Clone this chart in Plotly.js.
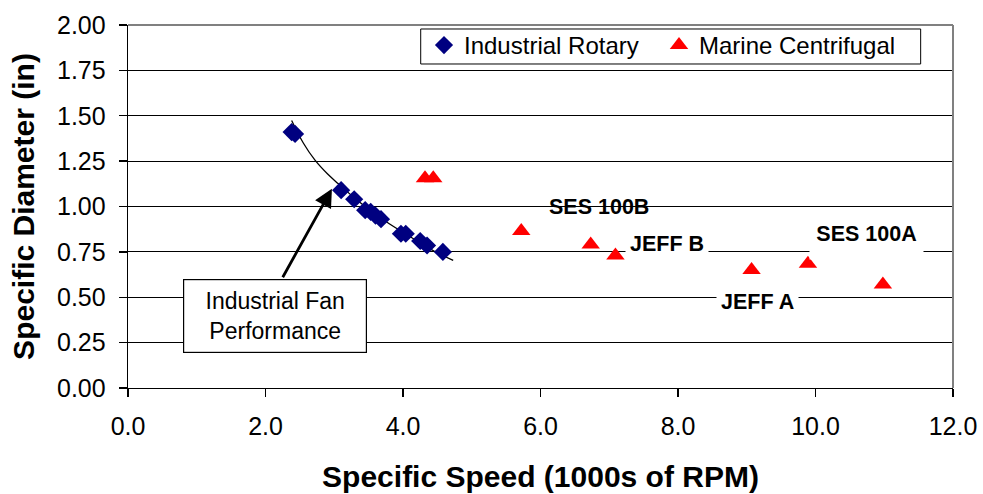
<!DOCTYPE html>
<html>
<head>
<meta charset="utf-8">
<script src="https://cdn.plot.ly/plotly-3.0.1.min.js"></script>
<style>html,body{margin:0;padding:0;background:#fff;}#chart{width:983px;height:494px;}</style>
</head>
<body>
<div id="chart"></div>
<script>
// Industrial Rotary (diamonds)
const rotaryX = [2.38, 2.43, 3.10, 3.29, 3.45, 3.53, 3.60, 3.68, 3.97, 4.04, 4.25, 4.35, 4.58];
const rotaryY = [1.41, 1.40, 1.09, 1.04, 0.98, 0.97, 0.95, 0.93, 0.85, 0.85, 0.81, 0.785, 0.75];
// Marine Centrifugal (triangles)
const marineX = [4.32, 4.44, 5.72, 6.73, 7.09, 9.07, 9.89, 10.98];
const marineY = [1.155, 1.155, 0.865, 0.79, 0.73, 0.65, 0.685, 0.57];
// Industrial fan performance trend curve
const fanX = [2.38, 2.55, 2.72, 2.90, 3.06, 3.30, 3.50, 3.80, 4.10, 4.45, 4.73];
const fanY = [1.474, 1.35, 1.255, 1.18, 1.125, 1.045, 0.985, 0.905, 0.835, 0.755, 0.703];
// Axis ticks
const xTicks = [0, 2, 4, 6, 8, 10, 12];
const xTickLabels = ["0.0", "2.0", "4.0", "6.0", "8.0", "10.0", "12.0"];
const yTicks = [0, 0.25, 0.5, 0.75, 1.0, 1.25, 1.5, 1.75, 2.0];
const yTickLabels = ["0.00", "0.25", "0.50", "0.75", "1.00", "1.25", "1.50", "1.75", "2.00"];
// Labels
const labelTexts = ["SES 100B", "JEFF B", "JEFF A", "SES 100A"];
const labelX = [6.845, 7.835, 9.15, 10.74];
const labelY = [1.0, 0.795, 0.474, 0.822];

const FONT = "Liberation Sans, Arial, sans-serif";

const traces = [
  {
    x: fanX, y: fanY, type: "scatter", mode: "lines",
    line: {color: "#000", width: 1.3, shape: "spline"},
    showlegend: false, hoverinfo: "skip"
  },
  {
    x: rotaryX, y: rotaryY, type: "scatter", mode: "markers", name: "Industrial Rotary",
    marker: {symbol: "diamond", color: "#000080", size: 14}
  },
  {
    x: marineX, y: marineY, type: "scatter", mode: "markers", name: "Marine Centrifugal",
    marker: {symbol: "triangle-up", color: "#FF0000", size: 16}
  }
];

const annotations = [
  {x: labelX[0], y: labelY[0], text: "<b>" + labelTexts[0] + "</b>", showarrow: false,
   font: {family: FONT, size: 21.5, color: "#000"}},
  {x: labelX[1], y: labelY[1], text: "<b>" + labelTexts[1] + "</b>", showarrow: false,
   font: {family: FONT, size: 21.5, color: "#000"}, bgcolor: "#fff", borderpad: 4},
  {x: labelX[2], y: labelY[2], text: "<b>" + labelTexts[2] + "</b>", showarrow: false,
   font: {family: FONT, size: 21.5, color: "#000"}, bgcolor: "#fff", borderpad: 4},
  {x: labelX[3], y: labelY[3], text: "<b>" + labelTexts[3] + "</b>", showarrow: false,
   font: {family: FONT, size: 21.5, color: "#000"}, bgcolor: "#fff", borderpad: 3,
   width: 107, height: 34, valign: "top"},
  {x: 2.14, y: 0.395, text: "Industrial Fan<br>Performance", showarrow: false,
   font: {family: FONT, size: 23, color: "#000"}, bgcolor: "#fff",
   bordercolor: "#000", borderwidth: 1.2, borderpad: 3, width: 176, height: 66},
  {x: 2.966, y: 1.098, ax: -50, ay: 90, text: "", showarrow: true,
   arrowhead: 2, arrowsize: 1.3, arrowwidth: 2.8, arrowcolor: "#000", standoff: 0}
];

const layout = {
  width: 983, height: 494,
  margin: {l: 128, r: 30, t: 25, b: 106},
  paper_bgcolor: "#fff", plot_bgcolor: "#fff",
  font: {family: FONT, color: "#000"},
  xaxis: {
    range: [0, 12], tickvals: xTicks, ticktext: xTickLabels,
    showgrid: false, zeroline: false, showline: true, linecolor: "#000", linewidth: 1.3,
    ticks: "outside", ticklen: 8, tickcolor: "#000", tickwidth: 1.3,
    tickfont: {family: FONT, size: 25, color: "#000"}, ticklabelstandoff: 8,
    title: {text: "<b>Specific Speed (1000s of RPM)</b>", font: {family: FONT, size: 30, color: "#000"}, standoff: 26},
    automargin: false
  },
  yaxis: {
    range: [0, 2], tickvals: yTicks, ticktext: yTickLabels,
    showgrid: true, gridcolor: "#000", gridwidth: 1.2, zeroline: false,
    showline: true, linecolor: "#000", linewidth: 1.3,
    ticks: "outside", ticklen: 8, tickcolor: "#000", tickwidth: 1.3,
    tickfont: {family: FONT, size: 25, color: "#000"}, ticklabelstandoff: 8,
    title: {text: "<b>Specific Diameter (in)</b>", font: {family: FONT, size: 30, color: "#000"}, standoff: 13},
    automargin: false
  },
  legend: {
    orientation: "h", x: 0.3588, y: 1.0055, xanchor: "left", yanchor: "top",
    bgcolor: "rgba(0,0,0,0)", borderwidth: 0, entrywidth: 190, entrywidthmode: "pixels",
    font: {family: FONT, size: 24, color: "#000"}
  },
  shapes: [
    {type: "rect", xref: "paper", yref: "paper", x0: 0.3548, x1: 0.9608, y0: 0.8926, y1: 0.989,
     fillcolor: "#fff", line: {color: "#000", width: 1}, layer: "above"},
    {type: "line", xref: "paper", yref: "paper", x0: 0, x1: 1, y0: 1, y1: 1, line: {color: "#808080", width: 2}},
    {type: "line", xref: "paper", yref: "paper", x0: 1, x1: 1, y0: 0, y1: 1, line: {color: "#808080", width: 2}}
  ],
  annotations: annotations
};

Plotly.newPlot("chart", traces, layout, {displayModeBar: false, staticPlot: true});
</script>
</body>
</html>
